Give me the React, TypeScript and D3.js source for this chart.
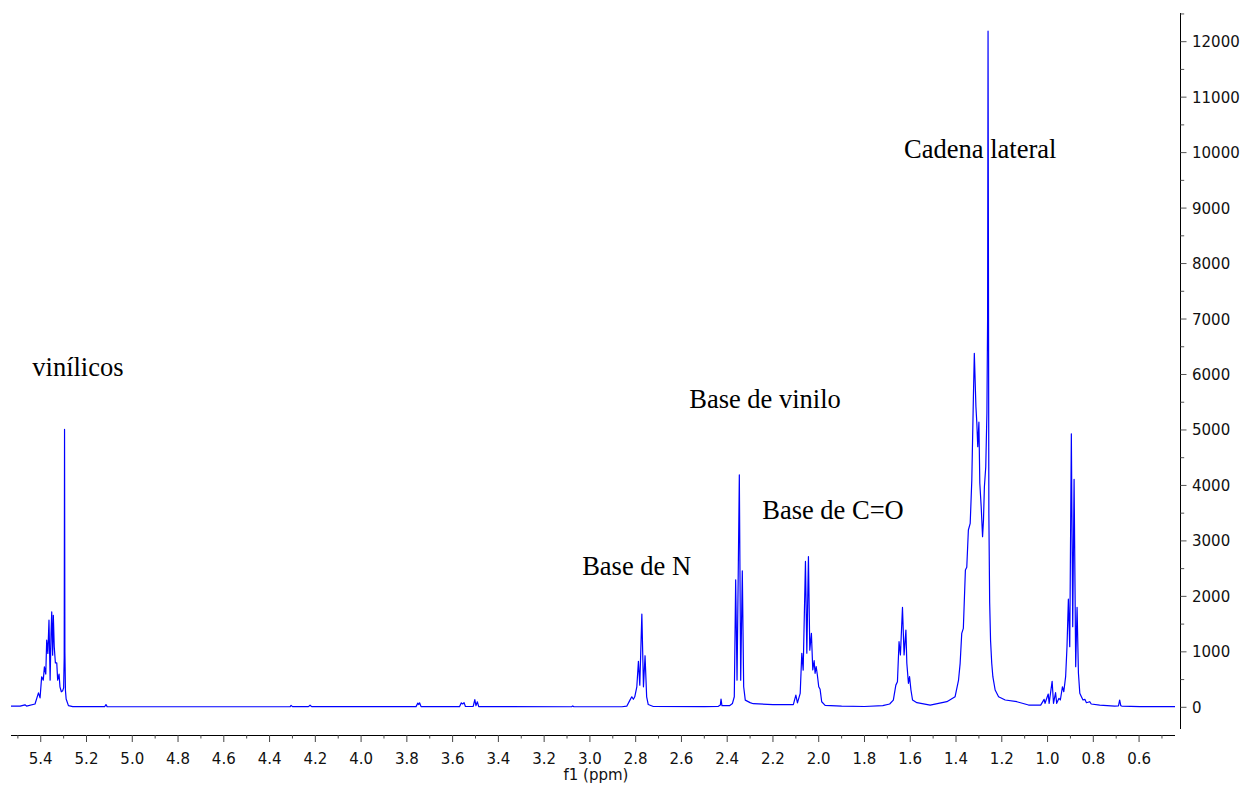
import React from "react";
import * as d3 from "d3";

// ---- data: [ppm, intensity] vertices, in descending ppm ----
const vinylic: [number, number][] = [
  [5.53, 20], [5.49, 22], [5.469, 45], [5.462, 22], [5.425, 60], [5.41, 260], [5.403, 170],
  [5.396, 550], [5.389, 490], [5.384, 730], [5.378, 600], [5.374, 1210], [5.369, 970],
  [5.364, 1570], [5.359, 490], [5.355, 1340], [5.352, 1720], [5.348, 940], [5.345, 1660],
  [5.341, 1090], [5.336, 800], [5.33, 800], [5.326, 490], [5.32, 600], [5.316, 370],
  [5.31, 280], [5.304, 300], [5.3, 350], [5.2975, 900], [5.296, 5010], [5.2945, 1000],
  [5.292, 300], [5.289, 150], [5.279, 30], [5.26, 12],
];
const midfield: [number, number][] = [
  [5.12, 14], [5.115, 50], [5.11, 12], [4.5, 10], [4.31, 12], [4.306, 35], [4.3, 12],
  [4.23, 12], [4.223, 38], [4.216, 12], [3.76, 12], [3.752, 75], [3.748, 50], [3.744, 80],
  [3.738, 12], [3.57, 12], [3.562, 80], [3.556, 60], [3.55, 85], [3.544, 15], [3.51, 15],
  [3.503, 140], [3.498, 30], [3.492, 100], [3.486, 12], [3.08, 10], [3.075, 25], [3.07, 10],
  [2.86, 10],
];
const baseN: [number, number][] = [
  [2.839, 20], [2.825, 130], [2.817, 190], [2.81, 145], [2.804, 190], [2.795, 370],
  [2.788, 830], [2.782, 400], [2.773, 1680], [2.766, 370], [2.759, 930], [2.752, 190],
  [2.745, 50], [2.723, 15], [2.5, 12],
];
const baseVinilo: [number, number][] = [
  [2.44, 15], [2.43, 40], [2.427, 150], [2.423, 30], [2.39, 30], [2.377, 70], [2.369, 190],
  [2.363, 2300], [2.357, 490], [2.347, 4190], [2.341, 490], [2.334, 2460], [2.328, 370],
  [2.321, 130], [2.3, 85], [2.286, 65], [2.2, 50], [2.111, 50], [2.1, 220], [2.093, 80],
];
const baseCO: [number, number][] = [
  [2.081, 250], [2.074, 975], [2.068, 670], [2.058, 2630], [2.052, 975], [2.045, 2716],
  [2.039, 1030], [2.032, 1335], [2.026, 673], [2.02, 840], [2.016, 613], [2.011, 732],
  [2.006, 582], [2.0, 371], [1.994, 324], [1.987, 100], [1.972, 36], [1.9, 20], [1.8, 15],
  [1.72, 30],
];
const sideChain: [number, number][] = [
  [1.69, 60], [1.674, 130], [1.663, 400], [1.656, 460], [1.649, 1183], [1.643, 943],
  [1.634, 1800], [1.627, 943], [1.619, 1394], [1.615, 793], [1.608, 433], [1.603, 552],
  [1.597, 312], [1.59, 132], [1.571, 83], [1.513, 41], [1.44, 101], [1.404, 191],
  [1.389, 492], [1.382, 793], [1.375, 1334], [1.368, 1424], [1.359, 2475], [1.353, 2524],
  [1.346, 3196], [1.338, 3317], [1.331, 4098], [1.324, 5601], [1.32, 6383], [1.313, 5420],
  [1.309, 5121], [1.305, 4699], [1.3, 5140], [1.296, 4039], [1.29, 3617], [1.284, 3076],
  [1.28, 3377], [1.276, 3977], [1.27, 4338], [1.265, 5300], [1.262, 7000], [1.26, 12190],
  [1.2565, 3500], [1.253, 1900], [1.249, 1200], [1.244, 800], [1.239, 552], [1.229, 312],
  [1.214, 191], [1.185, 132], [1.134, 101], [1.083, 41],
];
const methyl: [number, number][] = [
  [1.03, 40], [1.015, 144], [1.011, 72], [0.997, 240], [0.993, 72], [0.98, 470], [0.974, 72],
  [0.965, 264], [0.96, 72], [0.95, 162], [0.944, 132], [0.935, 371], [0.929, 281],
  [0.921, 552], [0.915, 1093], [0.909, 1950], [0.903, 1093], [0.896, 4930], [0.89, 1453],
  [0.884, 4110], [0.88, 2175], [0.877, 732], [0.871, 1800], [0.865, 613], [0.859, 252],
  [0.852, 191], [0.845, 132], [0.837, 144], [0.83, 83], [0.816, 101], [0.809, 60],
  [0.772, 41], [0.707, 23], [0.69, 25], [0.685, 132], [0.68, 30], [0.676, 23], [0.597, 12],
  [0.443, 12],
];

const xMajorTicks = [5.4, 5.2, 5.0, 4.8, 4.6, 4.4, 4.2, 4.0, 3.8, 3.6, 3.4, 3.2, 3.0, 2.8, 2.6, 2.4, 2.2, 2.0, 1.8, 1.6, 1.4, 1.2, 1.0, 0.8, 0.6];
const xMinorTicks = [5.5, 5.3, 5.1, 4.9, 4.7, 4.5, 4.3, 4.1, 3.9, 3.7, 3.5, 3.3, 3.1, 2.9, 2.7, 2.5, 2.3, 2.1, 1.9, 1.7, 1.5, 1.3, 1.1, 0.9, 0.7, 0.5];
const yMajorTicks = [0, 1000, 2000, 3000, 4000, 5000, 6000, 7000, 8000, 9000, 10000, 11000, 12000];
const yMinorTicks = [500, 1500, 2500, 3500, 4500, 5500, 6500, 7500, 8500, 9500, 10500, 11500, 12500];

const annotations: { text: string; ppm: number; value: number }[] = [
  { text: "vinílicos", ppm: 5.437, value: 5980 },
  { text: "Base de vinilo", ppm: 2.566, value: 5390 },
  { text: "Base de C=O", ppm: 2.247, value: 3400 },
  { text: "Base de N", ppm: 3.034, value: 2390 },
  { text: "Cadena lateral", ppm: 1.627, value: 9900 },
];

export default function App() {
  const W = 1247, H = 787;
  const x = d3.scaleLinear().domain([5.53, 0.443]).range([11, 1175]);
  const y = d3.scaleLinear().domain([-391, 12517]).range([729, 13]);
  const all = [...vinylic, ...midfield, ...baseN, ...baseVinilo, ...baseCO, ...sideChain, ...methyl];
  const line = d3.line<[number, number]>().x((d) => x(d[0])).y((d) => y(d[1]));
  const axisY = 735;
  const yAxisX = 1180.5;
  const tickFont = "'DejaVu Sans', Verdana, sans-serif";
  return (
    <svg width={W} height={H} style={{ position: "absolute", left: 0, top: 0, background: "#fff" }}>
      <rect x={0} y={0} width={W} height={H} fill="#fff" />
      {/* x axis */}
      <line x1={x.range()[0]} x2={x.range()[1]} y1={axisY + 0.5} y2={axisY + 0.5} stroke="#000" />
      {xMajorTicks.map((t) => (
        <g key={"xm" + t}>
          <line x1={x(t)} x2={x(t)} y1={axisY} y2={axisY + 7} stroke="#444" />
          <text x={x(t)} y={763.5} textAnchor="middle" fontSize={15} fontFamily={tickFont} fill="#111">
            {t.toFixed(1)}
          </text>
        </g>
      ))}
      {xMinorTicks.map((t) => (
        <line key={"xn" + t} x1={x(t)} x2={x(t)} y1={axisY} y2={axisY + 3.5} stroke="#444" />
      ))}
      <text x={596} y={780} textAnchor="middle" fontSize={15} fontFamily={tickFont} fill="#111">
        f1 (ppm)
      </text>
      {/* y axis */}
      <line x1={yAxisX} x2={yAxisX} y1={y.range()[1]} y2={y.range()[0]} stroke="#000" />
      {yMajorTicks.map((t) => (
        <g key={"ym" + t}>
          <line x1={yAxisX} x2={yAxisX + 6} y1={y(t)} y2={y(t)} stroke="#555" />
          <text x={1192} y={y(t) + 5.5} textAnchor="start" fontSize={15} fontFamily={tickFont} fill="#111">
            {t}
          </text>
        </g>
      ))}
      {yMinorTicks.map((t) => (
        <line key={"yn" + t} x1={yAxisX} x2={yAxisX + 3.7} y1={y(t)} y2={y(t)} stroke="#555" />
      ))}
      {/* annotations */}
      {annotations.map((a) => (
        <text key={a.text} x={x(a.ppm)} y={y(a.value)} fontSize={26.5} fontFamily="'Liberation Serif', 'Times New Roman', serif" fill="#000">
          {a.text}
        </text>
      ))}
      {/* spectrum */}
      <path d={line(all) || ""} fill="none" stroke="#0000ff" strokeWidth={1.2} strokeLinejoin="round" />
    </svg>
  );
}
